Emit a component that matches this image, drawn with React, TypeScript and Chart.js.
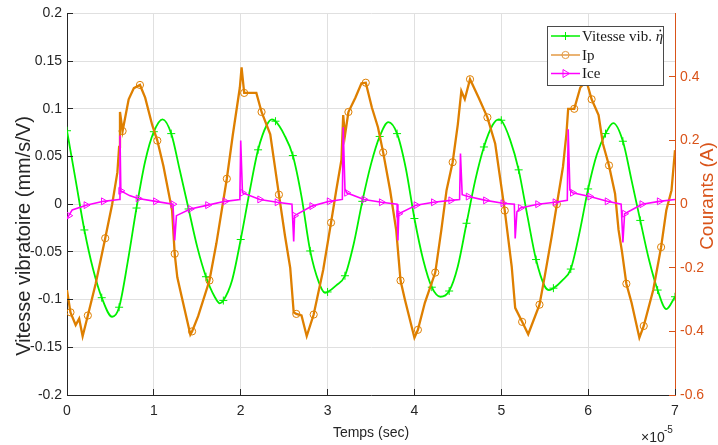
import React, { useEffect, useRef } from 'react';
import { Chart, registerables } from 'chart.js';

Chart.register(...registerables);

// ---------- data (time in units of 1e-5 s) ----------
const xTicks = [0, 1, 2, 3, 4, 5, 6, 7];
const leftTicks = [-0.2, -0.15, -0.1, -0.05, 0, 0.05, 0.1, 0.15, 0.2];
const rightTicks = [-0.6, -0.4, -0.2, 0, 0.2, 0.4];

const seriesNames = ['Vitesse vib. ', 'Ip', 'Ice'];

// Vitesse vibratoire (left axis, mm/s/V)
const greenX = [0, 0.1, 0.2, 0.3, 0.4, 0.52, 0.6, 0.7, 0.8, 0.9, 1.0, 1.1, 1.2, 1.3, 1.4, 1.5, 1.6, 1.7, 1.76, 1.8, 1.9, 2.0, 2.1, 2.2, 2.3, 2.36, 2.4, 2.5, 2.6, 2.7, 2.8, 2.9, 2.97, 3.0, 3.1, 3.2, 3.3, 3.4, 3.5, 3.6, 3.7, 3.8, 3.9, 4.0, 4.1, 4.2, 4.3, 4.4, 4.5, 4.6, 4.7, 4.8, 4.9, 4.97, 5.0, 5.1, 5.2, 5.3, 5.4, 5.5, 5.55, 5.6, 5.7, 5.8, 5.9, 6.0, 6.1, 6.2, 6.29, 6.4, 6.5, 6.6, 6.7, 6.8, 6.9, 7.0];
const greenY = [0.077, 0.025, -0.027, -0.068, -0.098, -0.118, -0.108, -0.06, -0.004, 0.045, 0.076, 0.089, 0.074, 0.035, -0.005, -0.045, -0.076, -0.097, -0.104, -0.101, -0.08, -0.037, 0.012, 0.057, 0.083, 0.089, 0.087, 0.073, 0.051, 0.008, -0.049, -0.082, -0.093, -0.092, -0.085, -0.075, -0.042, 0.003, 0.042, 0.071, 0.086, 0.074, 0.038, -0.015, -0.058, -0.087, -0.097, -0.091, -0.065, -0.02, 0.025, 0.06, 0.083, 0.089, 0.088, 0.068, 0.036, -0.012, -0.058, -0.086, -0.09, -0.088, -0.08, -0.068, -0.03, 0.016, 0.052, 0.074, 0.085, 0.066, 0.025, -0.017, -0.058, -0.09, -0.11, -0.097];

// Ip (right axis, A)
const ipX = [0, 0.04, 0.1, 0.14, 0.18, 0.24, 0.33, 0.44, 0.52, 0.58, 0.6, 0.61, 0.64, 0.71, 0.77, 0.84, 0.9, 0.98, 1.04, 1.11, 1.21, 1.24, 1.27, 1.32, 1.42, 1.44, 1.51, 1.64, 1.72, 1.84, 1.91, 1.99, 2.01, 2.04, 2.18, 2.24, 2.34, 2.44, 2.51, 2.57, 2.61, 2.64, 2.7, 2.76, 2.84, 2.95, 3.04, 3.1, 3.16, 3.18, 3.2, 3.24, 3.32, 3.39, 3.44, 3.51, 3.58, 3.64, 3.72, 3.79, 3.84, 3.89, 4.0, 4.04, 4.12, 4.24, 4.31, 4.37, 4.44, 4.5, 4.54, 4.58, 4.64, 4.74, 4.84, 4.93, 5.04, 5.12, 5.16, 5.24, 5.31, 5.44, 5.5, 5.58, 5.64, 5.71, 5.75, 5.77, 5.84, 5.91, 5.98, 6.04, 6.12, 6.17, 6.24, 6.31, 6.35, 6.39, 6.44, 6.5, 6.59, 6.64, 6.75, 6.84, 6.9, 6.96, 7.0];
const ipY = [-0.27, -0.34, -0.38, -0.36, -0.415, -0.35, -0.25, -0.107, 0.0, 0.1, 0.18, 0.29, 0.23, 0.33, 0.365, 0.375, 0.335, 0.25, 0.2, 0.12, -0.02, -0.156, -0.23, -0.29, -0.41, -0.4, -0.352, -0.24, -0.123, 0.08, 0.22, 0.367, 0.43, 0.35, 0.35, 0.29, 0.22, 0.03, -0.1, -0.2, -0.34, -0.345, -0.35, -0.415, -0.347, -0.206, -0.058, 0.044, 0.14, 0.28, 0.216, 0.29, 0.335, 0.38, 0.382, 0.304, 0.242, 0.163, 0.044, -0.081, -0.24, -0.3, -0.42, -0.395, -0.31, -0.215, -0.081, 0.044, 0.132, 0.252, 0.356, 0.33, 0.393, 0.335, 0.273, 0.19, -0.02, -0.196, -0.326, -0.37, -0.409, -0.316, -0.227, -0.102, 0.0, 0.117, 0.221, 0.3, 0.3, 0.367, 0.3875, 0.33, 0.28, 0.19, 0.122, 0.033, -0.081, -0.15, -0.25, -0.31, -0.42, -0.383, -0.269, -0.135, -0.019, 0.044, 0.17];

// Ice (right axis, A)
const iceX = [0, 0.02, 0.06, 0.22, 0.42, 0.6, 0.61, 0.62, 0.72, 0.82, 1.02, 1.22, 1.24, 1.26, 1.42, 1.62, 1.82, 1.99, 2.0, 2.02, 2.22, 2.42, 2.59, 2.61, 2.62, 2.82, 3.02, 3.17, 3.18, 3.2, 3.22, 3.42, 3.62, 3.8, 3.81, 3.82, 4.02, 4.22, 4.42, 4.52, 4.53, 4.55, 4.62, 4.82, 5.02, 5.15, 5.16, 5.18, 5.22, 5.42, 5.62, 5.76, 5.77, 5.79, 5.82, 6.02, 6.22, 6.38, 6.4, 6.42, 6.62, 6.82, 7.0];
const iceY = [-0.045, -0.036, -0.018, -0.003, 0.009, 0.015, 0.216, 0.042, 0.027, 0.018, 0.009, 0.0, -0.114, -0.036, -0.015, -0.003, 0.009, 0.015, 0.2, 0.036, 0.015, 0.006, 0.0, -0.117, -0.036, -0.006, 0.009, 0.015, 0.242, 0.048, 0.036, 0.015, 0.006, 0.0, -0.114, -0.03, -0.003, 0.006, 0.012, 0.015, 0.159, 0.03, 0.024, 0.012, 0.003, 0.0, -0.108, -0.024, -0.012, 0.0, 0.006, 0.012, 0.236, 0.045, 0.036, 0.024, 0.009, 0.0, -0.12, -0.03, 0.0, 0.009, 0.015];

// marker sampling (every 0.2e-5 s, per-series phase)
const markerStep = 0.2;
const markerPhase = [0, 0.04, 0.02];

// ---------- styles ----------
const SANS = '"Liberation Sans", Arial, Helvetica, sans-serif';
const SERIF = '"Liberation Serif", "Times New Roman", serif';
const AXIS = '#262626';
const RIGHT = '#D95319';
const GRID = '#E0E0E0';
const GREEN = '#00F000';
const ORANGE = '#DE7F00';
const MAGENTA = '#FF00FF';

const toPts = (xs: number[], ys: number[]) => xs.map((x, i) => ({ x, y: ys[i] }));
const onMarker = (x: number, phase: number) => {
  const k = (x - phase) / markerStep;
  return k > -0.01 && Math.abs(k - Math.round(k)) < 0.02;
};
const fmt = (v: number) => String(+Number(v).toFixed(2));

function drawMarker(ctx: CanvasRenderingContext2D, kind: string, cx: number, cy: number) {
  ctx.beginPath();
  if (kind === 'plus') {
    ctx.moveTo(cx - 4, cy); ctx.lineTo(cx + 4, cy);
    ctx.moveTo(cx, cy - 4); ctx.lineTo(cx, cy + 4);
  } else if (kind === 'circle') {
    ctx.arc(cx, cy, 3.6, 0, Math.PI * 2);
  } else {
    ctx.moveTo(cx + 4, cy); ctx.lineTo(cx - 2.5, cy - 4); ctx.lineTo(cx - 2.5, cy + 4); ctx.closePath();
  }
  ctx.stroke();
}

const decorPlugin = {
  id: 'decor',
  afterDraw(chart: any) {
    const { ctx, chartArea: a, scales } = chart;
    const al = (p: number) => Math.round(p - 0.5) + 0.5;
    ctx.save();
    ctx.lineWidth = 1;
    // inward tick marks
    ctx.strokeStyle = AXIS;
    ctx.beginPath();
    scales.x.ticks.forEach((t: any) => {
      const p = al(scales.x.getPixelForValue(t.value));
      ctx.moveTo(p, a.bottom); ctx.lineTo(p, a.bottom - 6);
    });
    scales.y.ticks.forEach((t: any) => {
      const p = al(scales.y.getPixelForValue(t.value));
      ctx.moveTo(a.left, p); ctx.lineTo(a.left + 6, p);
    });
    ctx.stroke();
    ctx.strokeStyle = RIGHT;
    ctx.beginPath();
    scales.y1.ticks.forEach((t: any) => {
      const p = al(scales.y1.getPixelForValue(t.value));
      ctx.moveTo(a.right, p); ctx.lineTo(a.right - 6, p);
    });
    ctx.stroke();

    // axis titles
    ctx.fillStyle = AXIS;
    ctx.font = `14px ${SANS}`;
    ctx.textAlign = 'center';
    ctx.textBaseline = 'alphabetic';
    ctx.fillText('Temps (sec)', (a.left + a.right) / 2, 437);
    ctx.textAlign = 'left';
    ctx.fillText('\u00D710', a.right - 34, 442);
    ctx.font = `10px ${SANS}`;
    ctx.fillText('-5', a.right - 11, 433);

    ctx.save();
    ctx.translate(24, 236);
    ctx.rotate(-Math.PI / 2);
    ctx.font = `20px ${SANS}`;
    ctx.textAlign = 'center';
    ctx.textBaseline = 'middle';
    ctx.fillText('Vitesse vibratoire (mm/s/V)', 0, 0);
    ctx.restore();

    ctx.save();
    ctx.translate(708, 196);
    ctx.rotate(-Math.PI / 2);
    ctx.font = `19px ${SANS}`;
    ctx.fillStyle = RIGHT;
    ctx.textAlign = 'center';
    ctx.textBaseline = 'middle';
    ctx.fillText('Courants (A)', 0, 0);
    ctx.restore();

    // legend
    const bx = 547, by = 26, bw = 116, bh = 59;
    ctx.fillStyle = '#FFFFFF';
    ctx.fillRect(bx, by, bw, bh);
    ctx.strokeStyle = '#4A4A4A';
    ctx.strokeRect(bx + 0.5, by + 0.5, bw, bh);
    const rows = [
      { color: GREEN, kind: 'plus', y: 36 },
      { color: '#E39A45', kind: 'circle', y: 55 },
      { color: MAGENTA, kind: 'triangle', y: 73.5 },
    ];
    rows.forEach((r, i) => {
      ctx.strokeStyle = r.color;
      ctx.lineWidth = 1.5;
      ctx.beginPath();
      ctx.moveTo(551, r.y); ctx.lineTo(580, r.y);
      ctx.stroke();
      ctx.lineWidth = 1;
      drawMarker(ctx, r.kind, 565.5, r.y);
      ctx.fillStyle = '#1A1A1A';
      ctx.font = `15px ${SERIF}`;
      ctx.textAlign = 'left';
      ctx.textBaseline = 'middle';
      ctx.fillText(seriesNames[i], 582, r.y + 1);
      if (i === 0) {
        const w = ctx.measureText(seriesNames[0]).width;
        ctx.font = `italic 15px ${SERIF}`;
        const ex = 582 + w;
        ctx.fillText('\u03B7', ex, r.y + 1);
        const ew = ctx.measureText('\u03B7').width;
        ctx.beginPath();
        ctx.arc(ex + ew * 0.62, r.y - 5.5, 0.9, 0, Math.PI * 2);
        ctx.fill();
      }
    });
    ctx.restore();
  },
};

export default function App() {
  const ref = useRef<HTMLCanvasElement | null>(null);
  useEffect(() => {
    if (!ref.current) return;
    const chart = new Chart(ref.current, {
      type: 'line',
      data: {
        datasets: [
          {
            label: 'Vitesse vib.',
            data: toPts(greenX, greenY),
            yAxisID: 'y',
            borderColor: GREEN,
            borderWidth: 1.8,
            cubicInterpolationMode: 'monotone',
            pointStyle: 'cross',
            pointRadius: (c: any) => (onMarker(greenX[c.dataIndex], markerPhase[0]) ? 4 : 0),
            pointBorderColor: GREEN,
            pointBorderWidth: 1,
            order: 3,
          },
          {
            label: 'Ip',
            data: toPts(ipX, ipY),
            yAxisID: 'y1',
            borderColor: ORANGE,
            borderWidth: 2.3,
            tension: 0,
            pointStyle: 'circle',
            pointRadius: (c: any) => (onMarker(ipX[c.dataIndex], markerPhase[1]) ? 3.6 : 0),
            pointBorderColor: ORANGE,
            pointBackgroundColor: 'rgba(0,0,0,0)',
            pointBorderWidth: 1,
            order: 2,
          },
          {
            label: 'Ice',
            data: toPts(iceX, iceY),
            yAxisID: 'y1',
            borderColor: MAGENTA,
            borderWidth: 1.6,
            tension: 0,
            pointStyle: 'triangle',
            rotation: 90,
            pointRadius: (c: any) => (onMarker(iceX[c.dataIndex], markerPhase[2]) ? 4 : 0),
            pointBorderColor: MAGENTA,
            pointBackgroundColor: 'rgba(0,0,0,0)',
            pointBorderWidth: 1,
            order: 1,
          },
        ] as any,
      },
      options: {
        animation: false,
        responsive: true,
        maintainAspectRatio: false,
        events: [],
        layout: { padding: { top: 12, left: 0, right: 0, bottom: 0 } },
        plugins: { legend: { display: false }, tooltip: { enabled: false } },
        scales: {
          x: {
            type: 'linear',
            min: 0,
            max: 7,
            afterBuildTicks: (s: any) => { s.ticks = xTicks.map((v) => ({ value: v })); },
            afterFit: (s: any) => { s.height = 50; },
            grid: { color: GRID, lineWidth: 1, drawTicks: false },
            border: { color: AXIS, width: 1 },
            ticks: { color: AXIS, font: { family: SANS, size: 14 }, padding: 8, maxRotation: 0, autoSkip: false, callback: (v: any) => fmt(v) },
          },
          y: {
            type: 'linear',
            position: 'left',
            min: -0.2,
            max: 0.2,
            afterBuildTicks: (s: any) => { s.ticks = leftTicks.map((v) => ({ value: v })); },
            afterFit: (s: any) => { s.width = 67; },
            grid: { color: GRID, lineWidth: 1, drawTicks: false },
            border: { color: AXIS, width: 1 },
            ticks: { color: AXIS, font: { family: SANS, size: 14 }, padding: 5, autoSkip: false, callback: (v: any) => fmt(v) },
          },
          y1: {
            type: 'linear',
            position: 'right',
            min: -0.6,
            max: 0.6,
            afterBuildTicks: (s: any) => { s.ticks = rightTicks.map((v) => ({ value: v })); },
            afterFit: (s: any) => { s.width = 43; },
            grid: { display: false, drawTicks: false },
            border: { color: RIGHT, width: 1 },
            ticks: { color: RIGHT, font: { family: SANS, size: 14 }, padding: 5, autoSkip: false, callback: (v: any) => fmt(v) },
          },
        },
      } as any,
      plugins: [decorPlugin],
    });
    return () => chart.destroy();
  }, []);
  return (
    <div style={{ position: 'fixed', left: 0, top: 0, width: 718, height: 445, background: '#fff' }}>
      <canvas ref={ref} />
    </div>
  );
}
